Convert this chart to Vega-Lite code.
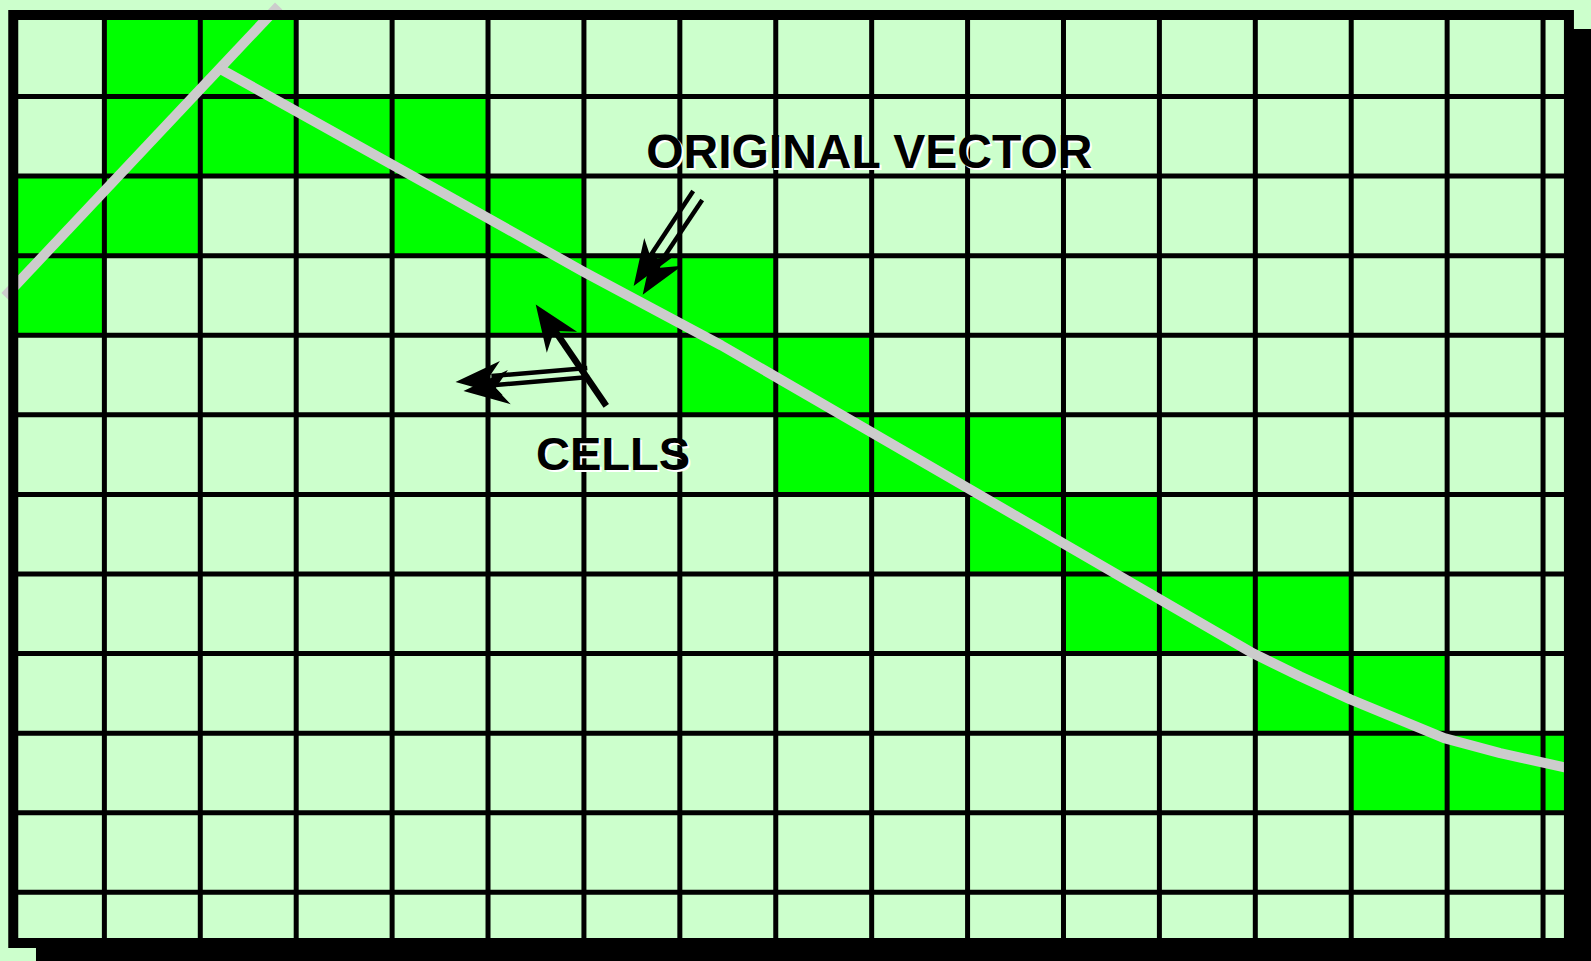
{
  "$schema": "https://vega.github.io/schema/vega-lite/v6.json",
  "width": 1591,
  "height": 961,
  "autosize": {"type": "fit", "contains": "padding"},
  "padding": 0,
  "background": "#CCFFCC",
  "config": {"view": {"stroke": null}},
  "datasets": {
    "shadow": [{"x0": 0.287, "x1": 16.5, "y0": 0.15, "y1": 11.8625}],
    "interior": [{"x0": 0.05, "x1": 16.27, "y0": -0.025, "y1": 11.6375}],
    "cells": [
      {"x0": 1, "x1": 2, "y0": 0, "y1": 1},
      {"x0": 2, "x1": 3, "y0": 0, "y1": 1},
      {"x0": 1, "x1": 2, "y0": 1, "y1": 2},
      {"x0": 2, "x1": 3, "y0": 1, "y1": 2},
      {"x0": 3, "x1": 4, "y0": 1, "y1": 2},
      {"x0": 4, "x1": 5, "y0": 1, "y1": 2},
      {"x0": 0.05, "x1": 1, "y0": 2, "y1": 3},
      {"x0": 1, "x1": 2, "y0": 2, "y1": 3},
      {"x0": 4, "x1": 5, "y0": 2, "y1": 3},
      {"x0": 5, "x1": 6, "y0": 2, "y1": 3},
      {"x0": 0.05, "x1": 1, "y0": 3, "y1": 4},
      {"x0": 5, "x1": 6, "y0": 3, "y1": 4},
      {"x0": 6, "x1": 7, "y0": 3, "y1": 4},
      {"x0": 7, "x1": 8, "y0": 3, "y1": 4},
      {"x0": 7, "x1": 8, "y0": 4, "y1": 5},
      {"x0": 8, "x1": 9, "y0": 4, "y1": 5},
      {"x0": 8, "x1": 9, "y0": 5, "y1": 6},
      {"x0": 9, "x1": 10, "y0": 5, "y1": 6},
      {"x0": 10, "x1": 11, "y0": 5, "y1": 6},
      {"x0": 10, "x1": 11, "y0": 6, "y1": 7},
      {"x0": 11, "x1": 12, "y0": 6, "y1": 7},
      {"x0": 11, "x1": 12, "y0": 7, "y1": 8},
      {"x0": 12, "x1": 13, "y0": 7, "y1": 8},
      {"x0": 13, "x1": 14, "y0": 7, "y1": 8},
      {"x0": 13, "x1": 14, "y0": 8, "y1": 9},
      {"x0": 14, "x1": 15, "y0": 8, "y1": 9},
      {"x0": 14, "x1": 15, "y0": 9, "y1": 10},
      {"x0": 15, "x1": 16, "y0": 9, "y1": 10},
      {"x0": 16, "x1": 16.27, "y0": 9, "y1": 10}
    ],
    "vlines": [{"x": 1}, {"x": 2}, {"x": 3}, {"x": 4}, {"x": 5}, {"x": 6}, {"x": 7}, {"x": 8}, {"x": 9}, {"x": 10}, {"x": 11}, {"x": 12}, {"x": 13}, {"x": 14}, {"x": 15}, {"x": 16}],
    "hlines": [{"y": 1}, {"y": 2}, {"y": 3}, {"y": 4}, {"y": 5}, {"y": 6}, {"y": 7}, {"y": 8}, {"y": 9}, {"y": 10}, {"y": 11}],
    "vector": [
      {"seg": "a", "i": 0, "x": -0.036, "y": 3.5125},
      {"seg": "a", "i": 1, "x": 2.817, "y": -0.1375},
      {"seg": "b", "i": 0, "x": 2.2027, "y": 0.65},
      {"seg": "b", "i": 1, "x": 4.5145, "y": 2.2},
      {"seg": "b", "i": 2, "x": 5.9933, "y": 3.2},
      {"seg": "b", "i": 3, "x": 7.4304, "y": 4.125},
      {"seg": "b", "i": 4, "x": 12.981, "y": 8.0},
      {"seg": "b", "i": 5, "x": 13.47, "y": 8.2875},
      {"seg": "b", "i": 6, "x": 13.9908, "y": 8.575},
      {"seg": "b", "i": 7, "x": 14.9696, "y": 9.0625},
      {"seg": "b", "i": 8, "x": 15.5527, "y": 9.25},
      {"seg": "b", "i": 9, "x": 16.2607, "y": 9.4375}
    ],
    "shafts": [
      {"a": "1a", "i": 0, "x": 7.139, "y": 2.1875},
      {"a": "1a", "i": 1, "x": 6.597, "y": 3.175},
      {"a": "1b", "i": 0, "x": 7.233, "y": 2.3},
      {"a": "1b", "i": 1, "x": 6.691, "y": 3.275},
      {"a": "3a", "i": 0, "x": 6.035, "y": 4.4125},
      {"a": "3a", "i": 1, "x": 5.035, "y": 4.5125},
      {"a": "3b", "i": 0, "x": 6.056, "y": 4.525},
      {"a": "3b", "i": 1, "x": 5.077, "y": 4.625}
    ],
    "shaft2": [
      {"a": "2", "i": 0, "x": 6.233, "y": 4.8875},
      {"a": "2", "i": 1, "x": 5.681, "y": 3.9125}
    ],
    "heads1": [{"x": 6.649, "y": 3.1375}, {"x": 6.743, "y": 3.25}],
    "heads2": [{"x": 5.634, "y": 3.85}],
    "heads3": [{"x": 4.9, "y": 4.5625}, {"x": 4.983, "y": 4.675}],
    "label1": [{"t": "ORIGINAL VECTOR", "x": 6.649, "y": 1.9}],
    "label2": [{"t": "CELLS", "x": 5.5, "y": 5.6875}]
  },
  "layer": [
    {
      "data": {"name": "shadow"},
      "mark": {"type": "rect", "color": "#000000"},
      "encoding": {
        "x": {"field": "x0", "type": "quantitative", "scale": {"domain": [-0.0674, 16.5], "nice": false, "zero": false}, "axis": null},
        "x2": {"field": "x1"},
        "y": {"field": "y0", "type": "quantitative", "scale": {"domain": [-0.15, 11.8625], "reverse": true, "nice": false, "zero": false}, "axis": null},
        "y2": {"field": "y1"}
      }
    },
    {
      "data": {"name": "interior"},
      "mark": {"type": "rect", "color": "#CCFFCC"},
      "encoding": {
        "x": {"field": "x0", "type": "quantitative", "scale": {"domain": [-0.0674, 16.5], "nice": false, "zero": false}, "axis": null},
        "x2": {"field": "x1"},
        "y": {"field": "y0", "type": "quantitative", "scale": {"domain": [-0.15, 11.8625], "reverse": true, "nice": false, "zero": false}, "axis": null},
        "y2": {"field": "y1"}
      }
    },
    {
      "data": {"name": "cells"},
      "mark": {"type": "rect", "color": "#00FF00"},
      "encoding": {
        "x": {"field": "x0", "type": "quantitative", "scale": {"domain": [-0.0674, 16.5], "nice": false, "zero": false}, "axis": null},
        "x2": {"field": "x1"},
        "y": {"field": "y0", "type": "quantitative", "scale": {"domain": [-0.15, 11.8625], "reverse": true, "nice": false, "zero": false}, "axis": null},
        "y2": {"field": "y1"}
      }
    },
    {
      "data": {"name": "vlines"},
      "mark": {"type": "rule", "color": "#000000", "strokeWidth": 5},
      "encoding": {
        "x": {"field": "x", "type": "quantitative", "scale": {"domain": [-0.0674, 16.5], "nice": false, "zero": false}, "axis": null},
        "y": {"datum": 0, "type": "quantitative", "scale": {"domain": [-0.15, 11.8625], "reverse": true, "nice": false, "zero": false}, "axis": null},
        "y2": {"datum": 11.6}
      }
    },
    {
      "data": {"name": "hlines"},
      "mark": {"type": "rule", "color": "#000000", "strokeWidth": 5},
      "encoding": {
        "y": {"field": "y", "type": "quantitative", "scale": {"domain": [-0.15, 11.8625], "reverse": true, "nice": false, "zero": false}, "axis": null},
        "x": {"datum": 0.05, "type": "quantitative", "scale": {"domain": [-0.0674, 16.5], "nice": false, "zero": false}, "axis": null},
        "x2": {"datum": 16.27}
      }
    },
    {
      "data": {"name": "vector"},
      "mark": {"type": "line", "color": "#CCCCCC", "strokeWidth": 10, "strokeCap": "butt", "strokeJoin": "round"},
      "encoding": {
        "x": {"field": "x", "type": "quantitative", "scale": {"domain": [-0.0674, 16.5], "nice": false, "zero": false}, "axis": null},
        "y": {"field": "y", "type": "quantitative", "scale": {"domain": [-0.15, 11.8625], "reverse": true, "nice": false, "zero": false}, "axis": null},
        "detail": {"field": "seg"},
        "order": {"field": "i", "type": "quantitative"}
      }
    },
    {
      "data": {"name": "interior"},
      "mark": {"type": "rect", "filled": false, "stroke": "#000000", "strokeWidth": 10},
      "encoding": {
        "x": {"field": "x0", "type": "quantitative", "scale": {"domain": [-0.0674, 16.5], "nice": false, "zero": false}, "axis": null},
        "x2": {"field": "x1"},
        "y": {"field": "y0", "type": "quantitative", "scale": {"domain": [-0.15, 11.8625], "reverse": true, "nice": false, "zero": false}, "axis": null},
        "y2": {"field": "y1"}
      }
    },
    {
      "data": {"name": "label1"},
      "mark": {"type": "text", "font": "Liberation Sans", "fontWeight": "bold", "fontSize": 48, "align": "left", "baseline": "alphabetic", "color": "#FFFFFF", "dx": 2, "dy": 2},
      "encoding": {
        "x": {"field": "x", "type": "quantitative", "scale": {"domain": [-0.0674, 16.5], "nice": false, "zero": false}, "axis": null},
        "y": {"field": "y", "type": "quantitative", "scale": {"domain": [-0.15, 11.8625], "reverse": true, "nice": false, "zero": false}, "axis": null},
        "text": {"field": "t"}
      }
    },
    {
      "data": {"name": "label1"},
      "mark": {"type": "text", "font": "Liberation Sans", "fontWeight": "bold", "fontSize": 48, "align": "left", "baseline": "alphabetic", "color": "#000000"},
      "encoding": {
        "x": {"field": "x", "type": "quantitative", "scale": {"domain": [-0.0674, 16.5], "nice": false, "zero": false}, "axis": null},
        "y": {"field": "y", "type": "quantitative", "scale": {"domain": [-0.15, 11.8625], "reverse": true, "nice": false, "zero": false}, "axis": null},
        "text": {"field": "t"}
      }
    },
    {
      "data": {"name": "label2"},
      "mark": {"type": "text", "font": "Liberation Sans", "fontWeight": "bold", "fontSize": 47, "align": "left", "baseline": "alphabetic", "color": "#FFFFFF", "dx": 2, "dy": 2},
      "encoding": {
        "x": {"field": "x", "type": "quantitative", "scale": {"domain": [-0.0674, 16.5], "nice": false, "zero": false}, "axis": null},
        "y": {"field": "y", "type": "quantitative", "scale": {"domain": [-0.15, 11.8625], "reverse": true, "nice": false, "zero": false}, "axis": null},
        "text": {"field": "t"}
      }
    },
    {
      "data": {"name": "label2"},
      "mark": {"type": "text", "font": "Liberation Sans", "fontWeight": "bold", "fontSize": 47, "align": "left", "baseline": "alphabetic", "color": "#000000"},
      "encoding": {
        "x": {"field": "x", "type": "quantitative", "scale": {"domain": [-0.0674, 16.5], "nice": false, "zero": false}, "axis": null},
        "y": {"field": "y", "type": "quantitative", "scale": {"domain": [-0.15, 11.8625], "reverse": true, "nice": false, "zero": false}, "axis": null},
        "text": {"field": "t"}
      }
    },
    {
      "data": {"name": "shafts"},
      "mark": {"type": "line", "color": "#000000", "strokeWidth": 4.5, "strokeCap": "butt"},
      "encoding": {
        "x": {"field": "x", "type": "quantitative", "scale": {"domain": [-0.0674, 16.5], "nice": false, "zero": false}, "axis": null},
        "y": {"field": "y", "type": "quantitative", "scale": {"domain": [-0.15, 11.8625], "reverse": true, "nice": false, "zero": false}, "axis": null},
        "detail": {"field": "a"},
        "order": {"field": "i", "type": "quantitative"}
      }
    },
    {
      "data": {"name": "shaft2"},
      "mark": {"type": "line", "color": "#000000", "strokeWidth": 6.5, "strokeCap": "butt"},
      "encoding": {
        "x": {"field": "x", "type": "quantitative", "scale": {"domain": [-0.0674, 16.5], "nice": false, "zero": false}, "axis": null},
        "y": {"field": "y", "type": "quantitative", "scale": {"domain": [-0.15, 11.8625], "reverse": true, "nice": false, "zero": false}, "axis": null},
        "detail": {"field": "a"},
        "order": {"field": "i", "type": "quantitative"}
      }
    },
    {
      "data": {"name": "heads1"},
      "mark": {"type": "point", "shape": "M1,0L-1,-0.75L-0.4,0L-1,0.75Z", "filled": true, "color": "#000000", "opacity": 1, "size": 2116, "angle": 123},
      "encoding": {
        "x": {"field": "x", "type": "quantitative", "scale": {"domain": [-0.0674, 16.5], "nice": false, "zero": false}, "axis": null},
        "y": {"field": "y", "type": "quantitative", "scale": {"domain": [-0.15, 11.8625], "reverse": true, "nice": false, "zero": false}, "axis": null}
      }
    },
    {
      "data": {"name": "heads2"},
      "mark": {"type": "point", "shape": "M1,0L-1,-0.8L-0.4,0L-1,0.8Z", "filled": true, "color": "#000000", "opacity": 1, "size": 2116, "angle": 235.3},
      "encoding": {
        "x": {"field": "x", "type": "quantitative", "scale": {"domain": [-0.0674, 16.5], "nice": false, "zero": false}, "axis": null},
        "y": {"field": "y", "type": "quantitative", "scale": {"domain": [-0.15, 11.8625], "reverse": true, "nice": false, "zero": false}, "axis": null}
      }
    },
    {
      "data": {"name": "heads3"},
      "mark": {"type": "point", "shape": "M1,0L-1,-0.75L-0.4,0L-1,0.75Z", "filled": true, "color": "#000000", "opacity": 1, "size": 2116, "angle": 175.3},
      "encoding": {
        "x": {"field": "x", "type": "quantitative", "scale": {"domain": [-0.0674, 16.5], "nice": false, "zero": false}, "axis": null},
        "y": {"field": "y", "type": "quantitative", "scale": {"domain": [-0.15, 11.8625], "reverse": true, "nice": false, "zero": false}, "axis": null}
      }
    }
  ]
}
